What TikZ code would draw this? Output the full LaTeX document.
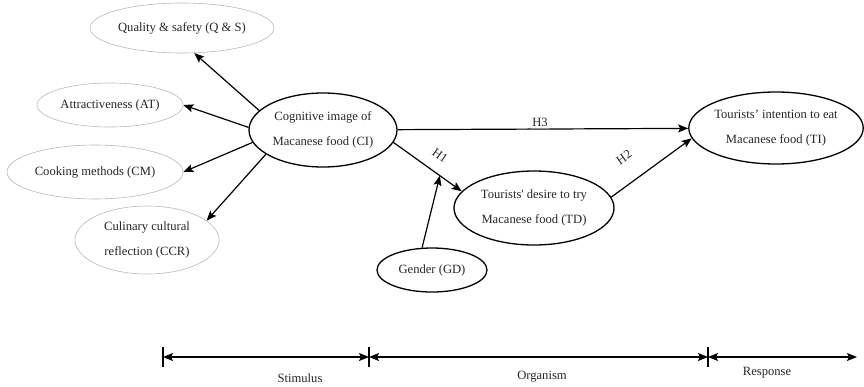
\documentclass[tikz,border=0pt]{standalone}
\usepackage{fontspec}
\setmainfont{Liberation Serif}
\usetikzlibrary{shapes.geometric,arrows.meta}
\tikzset{
	factor/.style={ellipse,draw=gray!55,line width=0.6pt,inner sep=0pt,align=center,text=black!85},
	construct/.style={ellipse,draw=black,line width=1.3pt,inner sep=0pt,align=center,text=black!85},
	link/.style={->,line width=1.2pt},
	hyp/.style={fill=white,sloped,above,inner sep=2pt,text=black!85}
}
\begin{document}
\begin{tikzpicture}[x=1pt,y=-1pt,line join=round,>={Stealth[length=10pt,width=8pt,inset=2pt]},font=\fontsize{12.6}{25}\selectfont]
				\useasboundingbox (0,0) rectangle (864,386);
				% stimulus side
				\node[factor,minimum width=184pt,minimum height=50pt] (QS) at (182,28) {Quality \& safety (Q \& S)};
				\node[factor,minimum width=146pt,minimum height=44pt] (AT) at (110,105) {Attractiveness (AT)};
				\node[factor,minimum width=176pt,minimum height=54pt] (CM) at (95,172) {Cooking methods (CM)};
				\node[factor,minimum width=144pt,minimum height=68pt] (CCR) at (147,240) {Culinary cultural\\reflection (CCR)};
				\node[construct,minimum width=148pt,minimum height=74pt] (CI) at (323,130) {Cognitive image of\\Macanese food (CI)};
				% organism and response
				\node[construct,minimum width=160pt,minimum height=74pt] (TD) at (534,208) {Tourists\textquotesingle{} desire to try\\Macanese food (TD)};
				\node[construct,minimum width=110pt,minimum height=44pt] (GD) at (432,270) {Gender (GD)};
				\node[construct,minimum width=168pt,minimum height=72pt] (TI) at (776,128) {Tourists’ intention to eat\\Macanese food (TI)};
				
				\draw[link] (CI.163) -- (QS.-64);
				\draw[link] (CI.178) -- (AT.east);
				\draw[link] (CI.190) -- (CM.east);
				\draw[link] (CI.203) -- (CCR.18);
				\draw[link] (CI) -- node[hyp,pos=0.49] {H3} (TI);
				\draw[link] (CI.-10) -- coordinate[pos=0.68] (h1pt) node[hyp,pos=0.54,above=10pt] {H1} (TD.167);
				\draw[link] (GD.114) -- (h1pt);
				\draw[link] (TD.8) -- node[hyp,pos=0.34,above=18pt] {H2} (TI.187);
				
				% S-O-R scale
				\path 
				(163,357) coordinate (t0)
				(369,357) coordinate (t1)
				(708,357) coordinate (t2)
				(857,357) coordinate (t3)
				;
				\draw[<->,line width=1.2pt] (t0)--(t1);
				\draw[<->,line width=1.2pt] (t1)--(t2);
				\draw[<->,line width=1.2pt] (t2)--(t3);
				\foreach \t in {t0,t1,t2}{
					\draw[line width=1.5pt] ([yshift=10pt]\t)--([yshift=-10pt]\t);
				};
				\node[text=black!85] (stim) at (300,378) {Stimulus};
				\node[text=black!85] (org) at (542,377) {Organism};
				\node[text=black!85] (resp) at (767,373) {Response};
			\end{tikzpicture}
\end{document}
